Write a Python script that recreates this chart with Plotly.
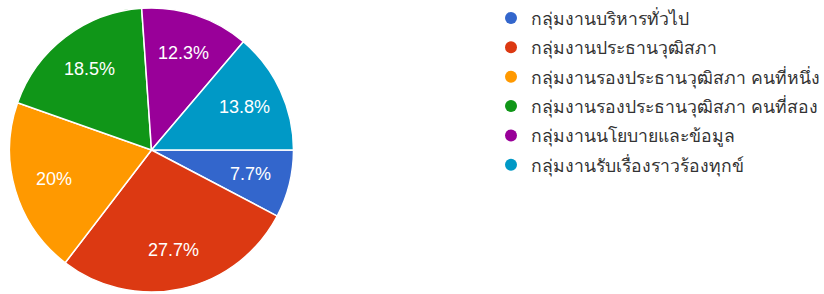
import math
import plotly.graph_objects as go

labels = ["กลุ่มงานบริหารทั่วไป", "กลุ่มงานประธานวุฒิสภา", "กลุ่มงานรองประธานวุฒิสภา คนที่หนึ่ง",
          "กลุ่มงานรองประธานวุฒิสภา คนที่สอง", "กลุ่มงานนโยบายและข้อมูล", "กลุ่มงานรับเรื่องราวร้องทุกข์"]
values = [7.7, 27.7, 20, 18.5, 12.3, 13.8]
colors = ["#3366cc", "#dc3912", "#ff9900", "#109618", "#990099", "#0099c6"]

W, H = 824, 294
CX, CY, R = 151.5, 150, 142  # pie centre / radius in px

fig = go.Figure()
fig.add_trace(go.Pie(
    labels=labels, values=values, sort=False, direction="clockwise", rotation=90,
    marker=dict(colors=colors, line=dict(color="white", width=1.5)),
    textinfo="none", showlegend=False, hoverinfo="label+percent",
    domain=dict(x=[(CX - R) / W, (CX + R) / W], y=[1 - (CY + R) / H, 1 - (CY - R) / H]),
))

# slice labels placed along each slice's mid-angle, derived from the values
total = sum(values)
acc = 0.0
for v in values:
    mid = (acc + v / 2) / total * 2 * math.pi  # clockwise from 3 o'clock
    acc += v
    px = CX + 0.72 * R * math.cos(mid)
    py = CY + 0.72 * R * math.sin(mid)
    fig.add_annotation(x=px / W, y=1 - py / H, xref="paper", yref="paper",
                       xanchor="center", yanchor="middle",
                       text=f"{v:g}%", showarrow=False,
                       font=dict(color="white", size=18, family="Arial, Liberation Sans"))

for i, (lab, col) in enumerate(zip(labels, colors)):
    fig.add_trace(go.Scatter(
        x=[None], y=[None], mode="markers", name=lab, legendgroup=str(i),
        marker=dict(symbol="circle", size=16, color=col), showlegend=True,
    ))

fig.update_layout(
    width=W, height=H, margin=dict(l=0, r=0, t=0, b=0, autoexpand=False),
    paper_bgcolor="white", plot_bgcolor="white",
    xaxis=dict(visible=False), yaxis=dict(visible=False),
    legend=dict(x=491 / W, y=1, xanchor="left", yanchor="top",
                font=dict(size=17.6, color="#333333", family="Noto Sans, DejaVu Sans"),
                tracegroupgap=3.5, itemsizing="constant", bgcolor="rgba(0,0,0,0)"),
)
# remove the default 8px page margin so the figure fills the window exactly
fig.write_html("out.html", config={"displayModeBar": False},
               post_script="document.body.style.margin='0px';")
